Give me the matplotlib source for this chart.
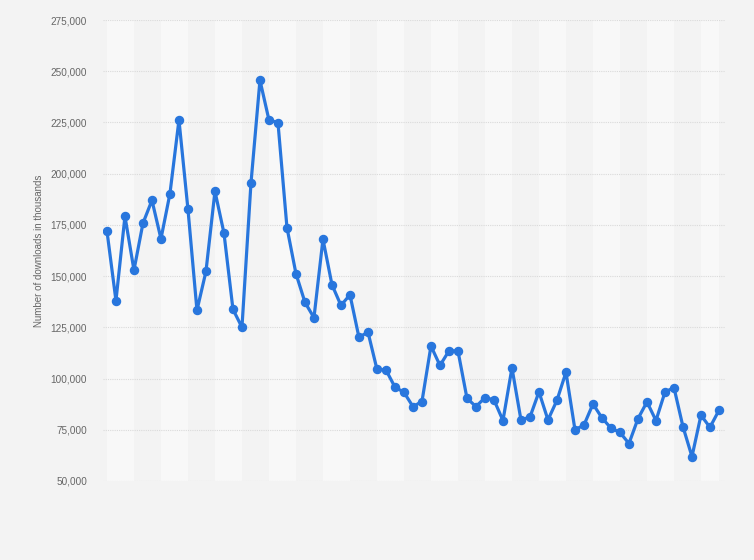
import matplotlib
matplotlib.use("Agg")
import matplotlib.pyplot as plt
from matplotlib.ticker import FuncFormatter, FixedLocator

downloads = [172, 138, 179.2, 152.9, 175.8, 187.0, 168.2, 190.3, 226.2, 182.6,
             133.3, 152.3, 191.4, 171.0, 133.8, 125.0, 195.3, 245.6, 226.2, 224.9,
             173.7, 151.2, 137.2, 129.7, 168.0, 145.8, 135.7, 140.9, 120.1, 122.7,
             104.5, 104.2, 95.8, 93.3, 86.3, 88.8, 115.9, 106.4, 113.5, 113.5,
             90.4, 86.3, 90.7, 89.6, 79.5, 105.2, 79.8, 81.2, 93.5, 79.8,
             89.4, 103.1, 75.0, 77.3, 87.6, 80.8, 75.8, 73.7, 68.3, 80.4,
             88.6, 79.5, 93.4, 95.6, 76.5, 61.9, 82.1, 76.2, 84.5]
downloads = [v * 1000 for v in downloads]
y_ticks = [50000, 75000, 100000, 125000, 150000, 175000, 200000, 225000, 250000, 275000]
y_label = "Number of downloads in thousands"

x = list(range(len(downloads)))

BG = "#f3f3f3"
BAND = "#f8f8f8"
BLUE = "#2876dd"

plt.rcParams['font.family'] = ['Liberation Sans', 'DejaVu Sans']

fig = plt.figure(figsize=(7.54, 5.60), dpi=100, facecolor=BG)
ax = fig.add_axes([103/754, 1 - 481/560, 622/754, 461/560])
ax.set_facecolor(BG)

n = len(downloads)
k = 0
while 3 * k < n - 1:
    if k % 2 == 0:
        ax.axvspan(3 * k, min(3 * k + 3, n - 1), color=BAND, lw=0, zorder=0)
    k += 1

ax.set_xlim(-0.44, 68.67)
ax.set_ylim(50000, 275000)
ax.yaxis.set_major_locator(FixedLocator(y_ticks))
ax.yaxis.set_major_formatter(FuncFormatter(lambda v, p: f"{int(v):,}"))
ax.grid(axis='y', color="#dadada", linestyle=(0, (1, 1)), linewidth=0.8, zorder=1)
ax.set_axisbelow(True)

ax.plot(x, downloads, color=BLUE, linewidth=2.3, marker='o', markersize=5.8,
        zorder=3, solid_joinstyle='round')

ax.set_xticks([])
ax.tick_params(axis='y', length=0, pad=11.5, labelsize=7.2, labelcolor="#666666")
for s in ax.spines.values():
    s.set_visible(False)

ax.set_ylabel(y_label, fontsize=7, color="#666666")
ax.yaxis.set_label_coords(-0.095, 0.5)

fig.savefig("out.png", dpi=100, facecolor=BG)
